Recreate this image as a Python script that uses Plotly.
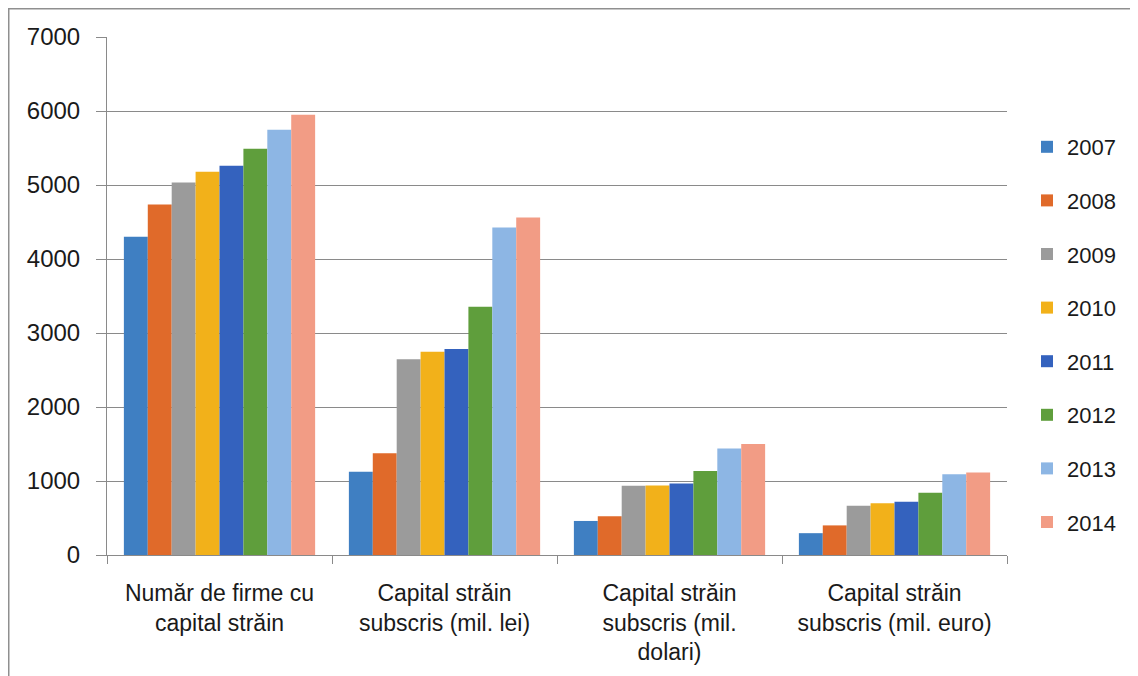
import plotly.graph_objects as go

categories = [
    "Număr de firme cu<br>capital străin",
    "Capital străin<br>subscris (mil. lei)",
    "Capital străin<br>subscris (mil.<br>dolari)",
    "Capital străin<br>subscris (mil. euro)",
]
years = ["2007", "2008", "2009", "2010", "2011", "2012", "2013", "2014"]

v2007 = [4300, 1125, 460, 295]
v2008 = [4735, 1375, 525, 400]
v2009 = [5035, 2645, 935, 665]
v2010 = [5180, 2745, 940, 700]
v2011 = [5260, 2785, 965, 720]
v2012 = [5490, 3355, 1135, 840]
v2013 = [5745, 4425, 1440, 1090]
v2014 = [5950, 4560, 1500, 1115]
values = [v2007, v2008, v2009, v2010, v2011, v2012, v2013, v2014]

colors = ["#3F7FC2", "#E06A2A", "#9B9B9B", "#F2B11A", "#3462BE",
          "#5F9E3C", "#8DB6E4", "#F29C85"]

# page has an 8px body margin; figure coordinates = page coordinates - 8
W, H = 1130, 668
L, T = 99, 29
R = W - 999
B = H - 547

fig = go.Figure()
for i, y in enumerate(years):
    fig.add_trace(go.Bar(
        name=y, x=categories, y=values[i],
        marker=dict(color=colors[i], line=dict(width=0)),
        legendgroup=y,
    ))

font_family = "Liberation Sans, Arial, sans-serif"
pw = W - L - R
ph = H - T - B

fig.update_layout(
    width=W, height=H,
    margin=dict(l=L, r=R, t=T, b=B, pad=0),
    paper_bgcolor="white", plot_bgcolor="white",
    barmode="group", bargap=0.15, bargroupgap=0,
    font=dict(family=font_family, color="#1a1a1a"),
    showlegend=True,
    legend=dict(
        xref="container", yref="container",
        x=1019 / W, xanchor="left",
        y=1 - 118 / H, yanchor="top",
        font=dict(size=22, color="#1a1a1a"),
        tracegroupgap=22,
        maxheight=600,
        bgcolor="rgba(0,0,0,0)",
        itemclick=False,
    ),
    xaxis=dict(
        type="category",
        showline=True, linecolor="#8a8a8a", linewidth=1,
        ticks="outside", tickson="boundaries", ticklen=8, tickcolor="#8a8a8a",
        tickfont=dict(size=23, color="#1a1a1a"),
        showgrid=False,
        ticklabelstandoff=17,
    ),
    yaxis=dict(
        range=[0, 7000], dtick=1000, tick0=0,
        showline=True, linecolor="#8a8a8a", linewidth=1,
        ticks="outside", ticklen=10, tickcolor="#8a8a8a",
        showgrid=True, gridcolor="#8a8a8a", gridwidth=1,
        zeroline=False,
        tickfont=dict(size=24, color="#1a1a1a"),
        ticklabelstandoff=11,
    ),
    shapes=[
        dict(type="line", xref="paper", yref="paper",
             x0=-L / pw, x1=(W - L) / pw,
             y0=1 + (T - 0.75) / ph, y1=1 + (T - 0.75) / ph,
             line=dict(color="#8f8f8f", width=1.5), layer="below"),
        dict(type="line", xref="paper", yref="paper",
             x0=(0.75 - L) / pw, x1=(0.75 - L) / pw,
             y0=-B / ph, y1=1 + T / ph,
             line=dict(color="#8f8f8f", width=1.5), layer="below"),
    ],
)

fig.write_html("out.html")
